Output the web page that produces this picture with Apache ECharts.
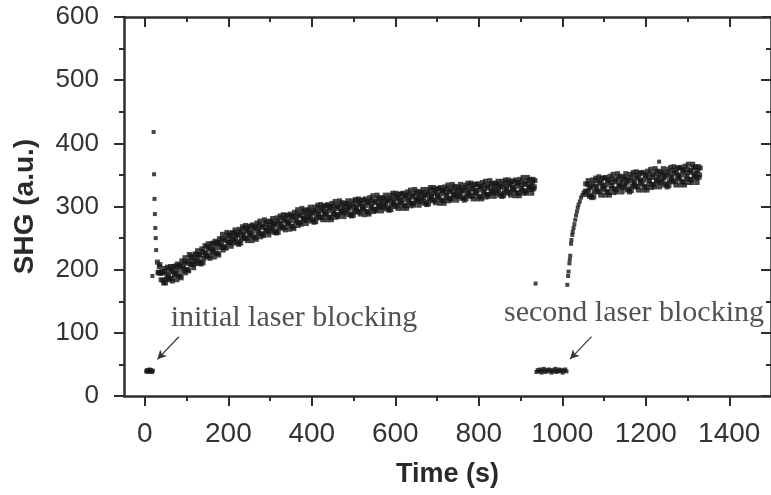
<!DOCTYPE html>
<html>
<head>
<meta charset="utf-8">
<script src="https://cdn.jsdelivr.net/npm/echarts@6/dist/echarts.min.js"></script>
<style>html,body{margin:0;padding:0;background:#fff}#c{width:771px;height:495px}</style>
</head>
<body>
<div id="c"></div>
<script>
// ---------- data ----------
const xMajorTicks = [0, 200, 400, 600, 800, 1000, 1200, 1400];
const xMinorTicks = [100, 300, 500, 700, 900, 1100, 1300];

// first blocking period [t, SHG]
const blocking1 = [[3,39],[5,41],[7,38],[9,40],[11,42],[13,39],[15,41],[17,38],[19,40]];
// recovery spike right after unblocking
const spike1 = [[18,190],[21,418],[22,351],[23,312],[24,288],[25,266],[26,250],[27,231]];
// main slow-rise band: two interleaved sample trains (every 3 s from 30 s and from 31.5 s)
const band1aStart = 30, band1bStart = 31.5, band1Step = 3;
const band1a = [
 212,196,208,184,195,179,197,185,204,190,
 184,197,182,205,196,192,209,190,207,187,
 206,202,219,200,213,198,219,208,214,203,
 225,214,230,210,223,209,229,218,238,226,
 220,233,218,241,232,228,245,226,243,223,
 243,239,256,236,249,234,254,243,249,237,
 259,248,263,242,255,240,260,249,268,255,
 249,261,246,268,259,254,271,252,268,248,
 265,261,277,257,269,254,273,262,267,255,
 277,265,281,259,272,258,277,266,285,272,
 266,278,263,286,276,272,288,269,285,265,
 283,278,295,275,287,272,291,280,285,273,
 295,283,299,277,290,275,294,283,302,288,
 282,294,279,301,291,287,303,283,300,279,
 296,291,308,287,300,284,303,292,297,284,
 305,294,309,287,299,285,304,292,311,298,
 291,303,288,310,300,295,312,292,308,288,
 305,300,317,296,308,293,312,300,306,293,
 314,303,318,296,309,294,313,302,321,307,
 300,313,297,319,310,305,321,302,318,297,
 314,310,326,305,318,302,321,310,315,302,
 323,312,327,305,318,303,322,311,330,316,
 309,321,306,328,318,313,330,310,326,305,
 322,318,334,313,326,310,329,318,323,310,
 331,319,335,313,325,310,330,318,337,323,
 316,328,312,335,325,320,336,316,332,312,
 329,324,340,319,332,316,335,323,328,316,
 337,325,340,318,331,316,335,323,342,328,
 321,334,318,340,330,325,342,322,338,317,
 334,329,346,325,337,321,341,329,334,321,
 343,331
];
const band1b = [
 195,205,194,197,183,202,179,193,187,201,
 205,186,199,192,206,184,199,205,190,214,
 198,212,195,210,200,224,209,222,208,219,
 210,224,218,224,212,233,211,227,222,236,
 241,222,235,228,242,220,235,241,226,249,
 235,249,231,246,236,259,244,257,242,253,
 244,258,250,256,244,264,242,257,251,265,
 270,250,263,255,269,246,261,267,251,274,
 257,271,252,267,256,279,263,276,260,271,
 262,275,268,273,261,282,259,274,268,282,
 287,267,280,273,286,264,278,284,268,291,
 275,288,270,285,274,297,281,294,278,289,
 280,293,286,291,279,299,276,291,285,298,
 303,283,296,288,301,279,293,298,283,305,
 288,301,283,297,287,309,293,306,290,300,
 290,304,296,301,288,309,286,300,294,308,
 312,292,305,297,310,287,302,307,291,314,
 297,310,292,306,295,318,302,314,299,309,
 299,313,305,310,298,318,295,310,304,317,
 321,302,314,306,320,297,311,317,301,323,
 306,320,301,315,305,327,311,324,308,318,
 308,322,314,319,307,327,304,319,313,326,
 330,310,323,315,328,305,320,325,309,331,
 314,328,309,323,313,335,319,332,316,326,
 316,329,322,327,314,334,312,326,320,333,
 337,317,329,322,335,312,326,331,315,338,
 321,334,315,329,319,341,325,337,321,332,
 322,335,327,332,320,340,317,331,325,338,
 342,323,335,327,340,317,332,337,321,343,
 326,339,321,335,324,346,331,343,327,337,
 328,341
];
// isolated points [t, SHG]
const isolated = [[936,178],[1232,371]];
// second blocking period, sampled every 3 s from 938 s
const blocking2Start = 938, blocking2Step = 3;
const blocking2 = [38,41,39,42,37,40,43,38,41,39,42,40,37,41,39,43,38,40,42,39,41,37,40,42,39];
// fast recovery after second unblocking [t, SHG]
const rise2 = [[1012,176],[1014,190],[1015,197],[1017,210],[1018,216],[1019,222],[1021,241],[1022,247],
 [1024,255],[1025,260],[1027,266],[1029,272],[1031,279],[1033,286],[1035,292],[1037,298],[1039,303],
 [1042,308],[1045,314],[1048,318],[1051,322],[1054,325]];
// second plateau band: two interleaved trains (every 3 s from 1056 s and from 1057.5 s)
const band2aStart = 1056, band2bStart = 1057.5, band2Step = 3;
const band2a = [
 336,324,341,316,330,314,336,323,345,330,
 323,337,318,345,333,327,346,324,342,318,
 338,333,351,328,342,323,345,332,338,323,
 347,334,352,326,340,323,346,332,354,338,
 331,345,326,353,341,335,354,332,350,326,
 345,341,359,335,350,331,353,340,346,331,
 355,342,360,334,348,331,354,340,362,346,
 339,353,334,361,349,343,362,340,358,334,
 353,348,367,343,357,338,361,347,353,338,
 363,350
];
const band2b = [
 319,335,326,333,318,342,315,332,325,341,
 347,324,338,330,345,318,334,341,322,348,
 329,344,322,339,327,352,334,348,330,342,
 330,345,337,343,328,351,325,341,334,349,
 355,332,346,338,353,326,342,349,330,356,
 336,352,330,346,335,360,342,356,338,350,
 338,353,345,351,336,359,333,349,342,357,
 363,340,354,346,361,334,350,357,338,364,
 344,359,338,354,342,367,350,363,345,357,
 346,361
];
// annotations: text, label anchor and arrow (tail -> head) in data units
const noteTexts = ['initial laser blocking', 'second laser blocking'];
const noteAnchors = [[61.7, 123.4], [860.5, 130.9]];
const arrowTails = [[81.4, 93.8], [1070, 94]];
const arrowHeads = [[30, 58], [1018.6, 58.5]];

// ---------- build ----------
const sparsePts = [], bandPts = [];
const addPairs = (dst, arr) => arr.forEach(p => dst.push(p));
const addTrain = (dst, arr, start, step) => arr.forEach((v, i) => dst.push([start + i * step, v]));
addPairs(sparsePts, blocking1);
addPairs(sparsePts, spike1);
addPairs(sparsePts, isolated);
addTrain(sparsePts, blocking2, blocking2Start, blocking2Step);
addPairs(sparsePts, rise2);
addTrain(bandPts, band1a, band1aStart, band1Step);
addTrain(bandPts, band1b, band1bStart, band1Step);
addTrain(bandPts, band2a, band2aStart, band2Step);
addTrain(bandPts, band2b, band2bStart, band2Step);

const AX = '#2e2e2e';
const DOT = '#161616';
const baseX = {type: 'value', min: -50, max: 1500, splitLine: {show: false}};
const chart = echarts.init(document.getElementById('c'), null, {renderer: 'canvas'});
chart.setOption({
  animation: false,
  backgroundColor: '#fff',
  grid: {left: 124, right: -7, top: 17, bottom: 99, containLabel: false},
  xAxis: [
    Object.assign({}, baseX, {
      position: 'bottom',
      name: 'Time (s)', nameLocation: 'middle', nameGap: 65,
      nameTextStyle: {fontFamily: 'Liberation Sans', fontWeight: 'bold', fontSize: 27, color: '#2a2a2a'},
      axisLine: {show: true, onZero: false, lineStyle: {color: AX, width: 2.5}},
      axisTick: {show: true, inside: false, length: 10, lineStyle: {color: AX, width: 2}, customValues: xMajorTicks},
      axisLabel: {show: true, margin: 24, fontFamily: 'Liberation Sans', fontSize: 28, color: '#333',
        customValues: xMajorTicks, formatter: v => String(v)}
    }),
    Object.assign({}, baseX, {
      position: 'bottom',
      axisLine: {show: false, onZero: false},
      axisTick: {show: true, inside: false, length: 5, lineStyle: {color: AX, width: 2}, customValues: xMinorTicks},
      axisLabel: {show: false}
    }),
    Object.assign({}, baseX, {
      position: 'top',
      axisLine: {show: true, onZero: false, lineStyle: {color: AX, width: 2.5}},
      axisTick: {show: true, inside: true, length: 10, lineStyle: {color: AX, width: 2}, customValues: xMajorTicks},
      axisLabel: {show: false}
    }),
    Object.assign({}, baseX, {
      position: 'top',
      axisLine: {show: false, onZero: false},
      axisTick: {show: true, inside: true, length: 5, lineStyle: {color: AX, width: 2}, customValues: xMinorTicks},
      axisLabel: {show: false}
    })
  ],
  yAxis: [
    {
      type: 'value', position: 'left', min: 0, max: 600, interval: 100,
      name: 'SHG (a.u.)', nameLocation: 'middle', nameGap: 85,
      nameTextStyle: {fontFamily: 'Liberation Sans', fontWeight: 'bold', fontSize: 28, color: '#2a2a2a'},
      splitLine: {show: false},
      axisLine: {show: true, onZero: false, lineStyle: {color: AX, width: 2.5}},
      axisTick: {show: true, inside: false, length: 10, lineStyle: {color: AX, width: 2}},
      minorTick: {show: true, splitNumber: 2, length: 5, lineStyle: {color: AX, width: 2}},
      axisLabel: {show: true, margin: 25, fontFamily: 'Liberation Sans', fontSize: 26, color: '#333'}
    },
    {
      type: 'value', position: 'right', min: 0, max: 600, interval: 100,
      splitLine: {show: false},
      axisLine: {show: true, onZero: false, lineStyle: {color: AX, width: 2.5}},
      axisTick: {show: true, inside: true, length: 10, lineStyle: {color: AX, width: 2}},
      minorTick: {show: true, splitNumber: 2, length: 5, lineStyle: {color: AX, width: 2}},
      axisLabel: {show: false}
    }
  ],
  series: [
    {
      type: 'scatter', xAxisIndex: 0, yAxisIndex: 0,
      symbol: 'rect', symbolSize: 4,
      itemStyle: {color: DOT},
      data: sparsePts, silent: true
    },
    {
      type: 'scatter', xAxisIndex: 0, yAxisIndex: 0,
      symbol: 'rect', symbolSize: 5,
      itemStyle: {color: DOT},
      data: bandPts, silent: true
    },
    {
      type: 'scatter', xAxisIndex: 0, yAxisIndex: 0,
      symbolSize: 0, silent: true,
      data: noteTexts.map((t, i) => ({name: t, value: noteAnchors[i]})),
      label: {
        show: true, formatter: '{b}', position: [0, 0], align: 'left', verticalAlign: 'middle',
        fontFamily: 'Liberation Serif', fontSize: 30, color: '#262626'
      },
      markLine: {
        silent: true, symbol: ['none', 'arrow'], symbolSize: [7, 9],
        lineStyle: {color: '#333', width: 1.2, type: 'solid'},
        label: {show: false},
        data: arrowTails.map((a, i) => [{coord: a}, {coord: arrowHeads[i]}])
      }
    }
  ]
});
</script>
</body>
</html>
